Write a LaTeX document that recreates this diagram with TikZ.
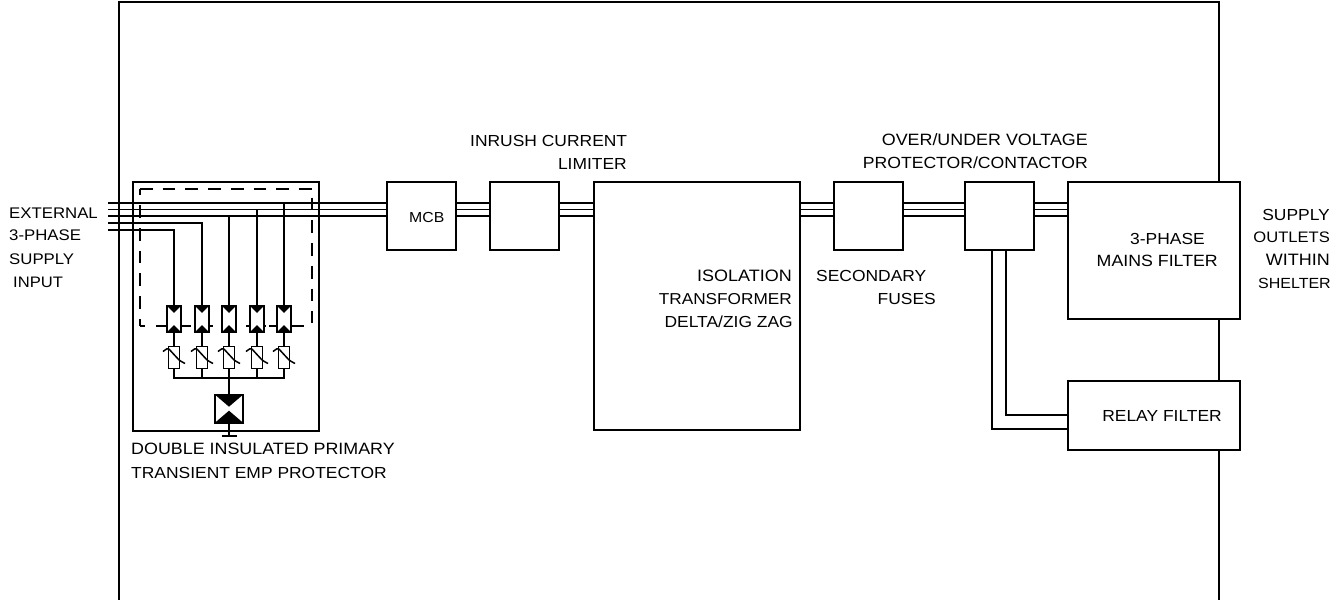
\documentclass[tikz,border=0pt]{standalone}
\usepackage{fontspec}
\setmainfont[FakeStretch=1.09]{Liberation Sans}
\usetikzlibrary{calc}
\tikzset{
  x=1pt,y=-1pt,
  wire/.style={line width=1.3pt,black},
  block/.style={draw,line width=1.3pt,fill=white,inner sep=0pt,outer sep=0pt,anchor=north west},
  sz/.style={font=\fontsize{#1}{#1}\selectfont},
  lbl/.style={inner sep=0pt,sz=16,anchor=base west},
  lblr/.style={lbl,anchor=base east},
  dashline/.style={line width=1.3pt,dash pattern=on 12.7pt off 10pt},
  cell/.style={draw,line width=1.6pt,fill=white,minimum width=14.5pt,minimum height=27pt,inner sep=0pt,outer sep=0pt},
  mov/.style={draw,line width=1.4pt,fill=white,minimum width=11.5pt,minimum height=21.5pt,inner sep=0pt,outer sep=0pt},
  tube/.style={draw,line width=1.6pt,fill=white,minimum width=28pt,minimum height=28pt,inner sep=0pt,outer sep=0pt},
}
\newcommand{\blk}[5]{\node[block,minimum width=#4pt,minimum height=#5pt] (#1) at (#2,#3) {};}
\begin{document}
\begin{tikzpicture}
\useasboundingbox (0,0) rectangle (1344,600);
\coordinate (ftl) at (119,2); \coordinate (ftr) at (1219,2);
\coordinate (fbl) at (119,600); \coordinate (fbr) at (1219,600);
\draw[wire] (fbl) -- (ftl) -- (ftr) -- (fbr);
\node[block,fill=none,minimum width=186pt,minimum height=249pt] (emp) at (133,182) {};
% dashed enclosure
\coordinate (d1) at (140,326); \coordinate (d1s) at (145,326); \coordinate (d2) at (140,189);
\coordinate (d3) at (311.5,189); \coordinate (d3b) at (312,197.7); \coordinate (d4) at (312,323);
\draw[dashline] (d2) -- (d3);
\draw[dashline,dash phase=6.4pt] (d2) -- (d1);
\draw[wire] (d1) -- (d1s);
\draw[dashline] (d3b) -- (d4);
\blk{mcb}{387}{182}{69}{68}
\blk{inrush}{490}{182}{69}{68}
\blk{iso}{594}{182}{206}{248}
\blk{fuse}{834}{182}{69}{68}
\blk{ovp}{965}{182}{69}{68}
\blk{mains}{1068}{182}{172}{137}
\blk{relay}{1068}{381}{172}{69}
\coordinate (in1) at (108,203); \coordinate (in2) at (108,209.5); \coordinate (in3) at (108,216);
\coordinate (in4) at (108,223); \coordinate (in5) at (108,230);
\draw[wire] (in1) -- (in1 -| mcb.west);
\draw[wire] (in2) -- (in2 -| mcb.west);
\draw[wire] (in3) -- (in3 -| mcb.west);
\foreach \a/\b in {mcb/inrush,inrush/iso,iso/fuse,fuse/ovp,ovp/mains}{
  \draw[wire] (\a.east |- in1) -- (\b.west |- in1);
  \draw[wire] (\a.east |- in2) -- (\b.west |- in2);
  \draw[wire] (\a.east |- in3) -- (\b.west |- in3);
}
% side stubs at the surge cells
\foreach \a/\b in {156/167,182/191,209/213,246/249,264/266,269/277,292/304}{
  \coordinate (sa) at (\a,326); \coordinate (sb) at (\b,326);
  \draw[wire] (sa) -- (sb);
}
% surge cells
\foreach \n/\x in {1/174,2/202,3/229,4/257,5/284}{
  \node[cell] (c\n) at (\x,319) {};
  \fill (c\n.north west) -- (c\n.north east) -- ($(c\n.center)+(0,-6)$) -- cycle;
  \fill (c\n.south west) -- (c\n.south east) -- ($(c\n.center)+(0,6)$) -- cycle;
  \node[mov] (m\n) at (\x,357.5) {};
  \draw[wire] (c\n.south) -- (m\n.north);
  \draw[line width=1.5pt,rounded corners=1.5pt] ($(m\n.center)+(-11,-6)$) -- ($(m\n.center)+(-6,-9.5)$) -- ($(m\n.center)+(5.5,3)$) -- ($(m\n.center)+(11,6)$);
}
\draw[wire] (in5) -| (c1.north);
\draw[wire] (in4) -| (c2.north);
\draw[wire] (in3 -| c3.north) -- (c3.north);
\draw[wire] (in2 -| c4.north) -- (c4.north);
\draw[wire] (in1 -| c5.north) -- (c5.north);
\coordinate (bus) at (0,378);
\draw[wire] (m1.south) |- (bus -| m5.south) -- (m5.south);
\draw[wire] (m2.south) -- (m2.south |- bus);
\draw[wire] (m3.south) -- (m3.south |- bus);
\draw[wire] (m4.south) -- (m4.south |- bus);
\node[tube] (gt) at (229,408.7) {};
\fill (gt.north west) -- (gt.north east) -- ($(gt.center)+(0,-2)$) -- cycle;
\fill (gt.south west) -- (gt.south east) -- ($(gt.center)+(0,2)$) -- cycle;
\draw[wire] (m3.south |- bus) -- (gt.north);
\coordinate (gnd) at (229,436);
\draw[wire] (gt.south) -- (gnd);
\draw[wire] ($(gnd)+(-7.5,0)$) -- ($(gnd)+(7.5,0)$);
% relay feed
\coordinate (r1) at (1006,415); \coordinate (r2) at (992,429);
\draw[wire] (r1 |- ovp.south) -- (r1) -- (r1 -| relay.west);
\draw[wire] (r2 |- ovp.south) -- (r2) -- (r2 -| relay.west);
% labels
\node[lbl,sz=15.4] (l1) at (9,218) {EXTERNAL};
\node[lbl,sz=15.4] (l2) at (9,240) {3-PHASE};
\node[lbl,sz=15.4] (l3) at (9,264) {SUPPLY};
\node[lbl,sz=15.2] (l4) at (13,287) {INPUT};
\node[lbl] (l5) at (470,146) {INRUSH CURRENT};
\node[lblr] (l6) at (627,169) {LIMITER};
\node[lbl,sz=14.5] (l7) at (409,222) {MCB};
\node[lblr,sz=16.5] (l8) at (792,281) {ISOLATION};
\node[lblr,sz=15.8] (l9) at (792,304) {TRANSFORMER};
\node[lblr] (l10) at (793,327) {DELTA/ZIG ZAG};
\node[lbl] (l11) at (816,281) {SECONDARY};
\node[lblr] (l12) at (936,304) {FUSES};
\node[lblr,sz=16.4] (l13) at (1088,145) {OVER/UNDER VOLTAGE};
\node[lblr,sz=16.15] (l14) at (1088,168) {PROTECTOR/CONTACTOR};
\node[lblr] (l15) at (1205,244) {3-PHASE};
\node[lblr,sz=16.3] (l16) at (1218,266) {MAINS FILTER};
\node[lblr] (l17) at (1222,421) {RELAY FILTER};
\node[lblr] (l18) at (1330,220) {SUPPLY};
\node[lblr,sz=15.2] (l19) at (1330,242) {OUTLETS};
\node[lblr,sz=16.5] (l20) at (1330,265) {WITHIN};
\node[lblr,sz=14.7] (l21) at (1331,288) {SHELTER};
\node[lbl,sz=16.4] (l22) at (131,454) {DOUBLE INSULATED PRIMARY};
\node[lbl] (l23) at (131,478) {TRANSIENT EMP PROTECTOR};
\end{tikzpicture}
\end{document}
